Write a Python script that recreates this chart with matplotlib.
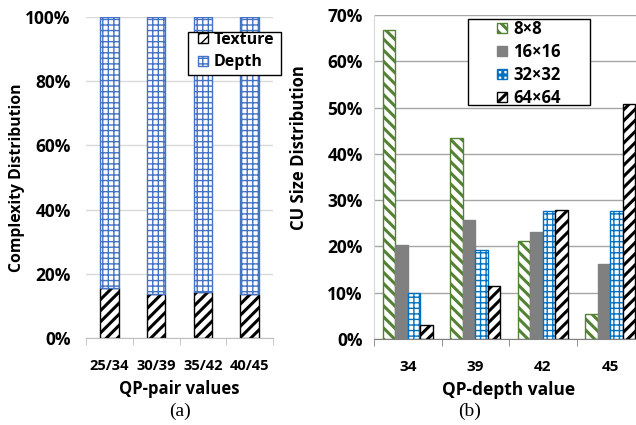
import numpy as np
import matplotlib.pyplot as plt
import matplotlib.ticker as mticker
from matplotlib.patches import Rectangle

# Panel (a): complexity distribution per QP pair
qp_pairs = ['25/34', '30/39', '35/42', '40/45']
texture = [15.5, 13.8, 14.4, 13.8]
depth = [100 - t for t in texture]

# Panel (b): CU size distribution per QP-depth
qp_depth = ['34', '39', '42', '45']
cu_labels = ['8×8', '16×16', '32×32', '64×64']
cu_8 = [66.7, 43.5, 21.1, 5.5]
cu_16 = [20.4, 25.8, 23.2, 16.2]
cu_32 = [9.9, 19.3, 27.7, 27.7]
cu_64 = [3.1, 11.5, 27.9, 50.7]

plt.rcParams['font.family'] = ['Open Sans', 'DejaVu Sans']
plt.rcParams['font.weight'] = 'bold'

W, H = 636, 425
fig = plt.figure(figsize=(W / 100, H / 100), dpi=100)


def px_box(x0, y0, x1, y1):
    # pixel box (top-left origin) -> figure fraction rectangle
    return (x0 / W, 1 - y1 / H, (x1 - x0) / W, (y1 - y0) / H)


def legend_box(ax, box, anchor, spacing, size):
    # frameless legend on top of a white, square-cornered box
    x, y, w, h = px_box(*box)
    ax.add_patch(Rectangle((x, y), w, h, transform=fig.transFigure, facecolor='white',
                           edgecolor='black', linewidth=1.0, zorder=4, clip_on=False))
    leg = ax.legend(loc='upper left', bbox_to_anchor=(anchor[0] / W, 1 - anchor[1] / H),
                    bbox_transform=fig.transFigure, frameon=False, fontsize=size,
                    handlelength=0.6, handleheight=0.6, handletextpad=0.36,
                    borderpad=0, borderaxespad=0, labelspacing=spacing)
    leg.set_zorder(5)
    return leg


# ---------- (a) ----------
ax1 = fig.add_axes(px_box(86, 17, 273, 338))
x = np.arange(len(qp_pairs))
plt.rcParams['hatch.linewidth'] = 2.2
ax1.bar(x, texture, 0.4, color='white', edgecolor='black', hatch='///', linewidth=1.0, label='Texture')
plt.rcParams['hatch.linewidth'] = 1.0
ax1.bar(x, depth, 0.4, bottom=texture, color='white', edgecolor='#4472C4', hatch='+++', linewidth=1.0, label='Depth')
ax1.set_xlim(-0.5, 3.5)
ax1.set_ylim(0, 100)
ax1.yaxis.set_major_locator(mticker.MultipleLocator(20))
ax1.yaxis.set_major_formatter(mticker.FuncFormatter(lambda v, p: f'{v:.0f}%'))
ax1.grid(axis='y', color='#D9D9D9', linewidth=1.0)
ax1.set_axisbelow(True)
for s in ['top', 'right', 'left']:
    ax1.spines[s].set_visible(False)
ax1.spines['bottom'].set_color('#BFBFBF')
ax1.set_xticks(x)
ax1.set_xticklabels(qp_pairs)
ax1.set_xticks(np.arange(-0.5, 4.0, 1), minor=True)
ax1.tick_params(axis='x', which='major', length=0, pad=15, labelsize=10.5)
ax1.tick_params(axis='x', which='minor', length=5, color='#BFBFBF')
ax1.tick_params(axis='y', length=0, labelsize=12.5, pad=11)
ax1.set_xlabel('QP-pair values', fontsize=12, fontweight='bold', labelpad=5)
ax1.set_ylabel('Complexity Distribution', fontsize=11.3, fontweight='bold')
ax1.yaxis.set_label_coords(-0.326, 0.5)
legend_box(ax1, (188, 32, 281, 75), (198, 32), 0.4, 11.5)
fig.text(180 / W, 1 - 411 / H, '(a)', family='Liberation Serif', fontweight='normal',
         fontsize=14, ha='center', va='center')

# ---------- (b) ----------
ax2 = fig.add_axes(px_box(374, 15, 644, 339))
x2 = np.arange(len(qp_depth))
w = 0.185
series = [
    (cu_8, 'white', '#548235', '\\\\\\', 2.2),
    (cu_16, '#808080', '#808080', None, 1.0),
    (cu_32, 'white', '#0070C0', '+++', 1.0),
    (cu_64, 'white', 'black', '///', 2.2),
]
for i, (vals, fc, ec, h, hlw) in enumerate(series):
    plt.rcParams['hatch.linewidth'] = hlw
    ax2.bar(x2 + (i - 1.5) * w, vals, w, color=fc, edgecolor=ec, hatch=h, linewidth=1.0,
            label=cu_labels[i])
ax2.set_xlim(-0.5, 3.5)
ax2.set_ylim(0, 70)
ax2.yaxis.set_major_locator(mticker.MultipleLocator(10))
ax2.yaxis.set_major_formatter(mticker.FuncFormatter(lambda v, p: f'{v:.0f}%'))
ax2.grid(axis='y', color='#A6A6A6', linewidth=1.0)
ax2.set_axisbelow(True)
for s in ['top', 'right']:
    ax2.spines[s].set_visible(False)
ax2.spines['left'].set_color('#D9D9D9')
ax2.spines['bottom'].set_color('#808080')
ax2.set_xticks(x2)
ax2.set_xticklabels(qp_depth)
ax2.set_xticks(np.arange(-0.5, 4.0, 1), minor=True)
ax2.tick_params(axis='x', which='major', length=0, pad=15, labelsize=11)
ax2.tick_params(axis='x', which='minor', length=5, color='#808080')
ax2.tick_params(axis='y', length=0, labelsize=12.5, pad=8)
ax2.set_xlabel('QP-depth value', fontsize=12.5, fontweight='bold', labelpad=5)
ax2.set_ylabel('CU Size Distribution', fontsize=12, fontweight='bold')
ax2.yaxis.set_label_coords(-0.244, 0.59)
legend_box(ax2, (468, 19, 590, 105), (497, 20), 0.3, 12)
fig.text(470 / W, 1 - 411 / H, '(b)', family='Liberation Serif', fontweight='normal',
         fontsize=14, ha='center', va='center')

fig.savefig('out.png', dpi=100)
